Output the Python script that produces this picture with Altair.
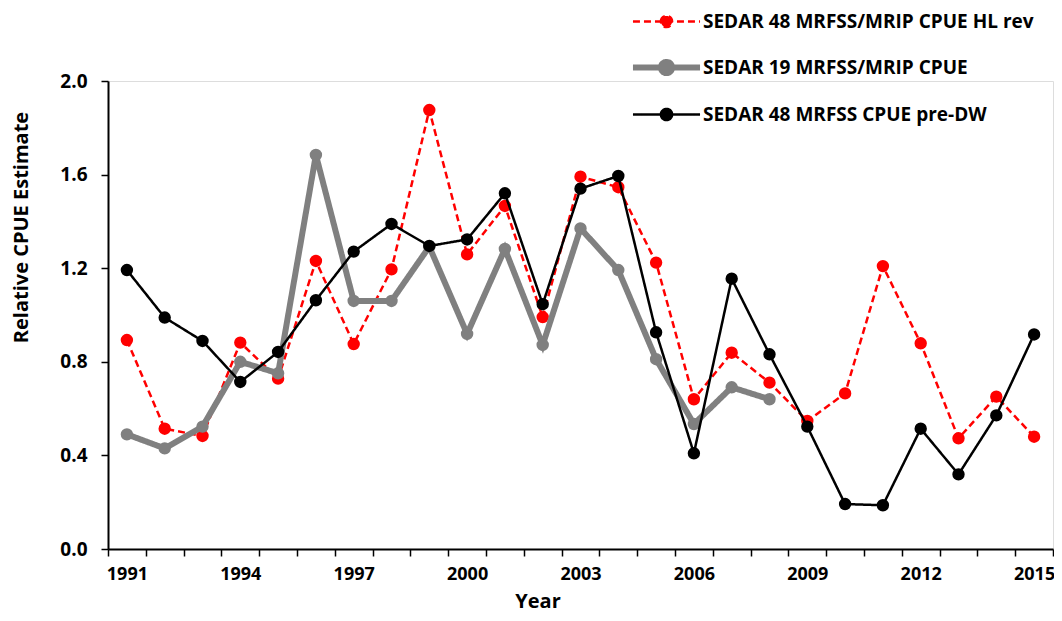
import altair as alt
import pandas as pd

years = list(range(1991, 2016))
series_names = [
    "SEDAR 48 MRFSS/MRIP CPUE HL rev",
    "SEDAR 19 MRFSS/MRIP CPUE",
    "SEDAR 48 MRFSS CPUE pre-DW",
]
red_vals = [0.893, 0.514, 0.483, 0.882, 0.728, 1.231, 0.876, 1.195, 1.876, 1.259,
            1.466, 0.991, 1.591, 1.546, 1.224, 0.640, 0.839, 0.711, 0.547, 0.665,
            1.209, 0.879, 0.473, 0.651, 0.480]
gray_vals = [0.490, 0.430, 0.523, 0.800, 0.751, 1.684, 1.060, 1.060, 1.292, 0.919,
             1.282, 0.872, 1.370, 1.192, 0.811, 0.534, 0.691, 0.640]
black_vals = [1.192, 0.989, 0.889, 0.714, 0.842, 1.063, 1.271, 1.389, 1.295, 1.323,
              1.520, 1.046, 1.540, 1.594, 0.926, 0.409, 1.155, 0.832, 0.523, 0.192,
              0.187, 0.514, 0.319, 0.571, 0.917]
colors = ["#FF0000", "#808080", "#000000"]
dashes = [[7, 4], [1, 0], [1, 0]]
widths = [2.5, 6, 2.5]

rows = []
for name, vals in zip(series_names, [red_vals, gray_vals, black_vals]):
    for y, v in zip(years, vals):
        rows.append({"Year": y, "Value": v, "series": name})
df = pd.DataFrame(rows)

x_ticks = [y - 0.5 for y in years] + [2015.5]
FONT = "Open Sans"

legend = alt.Legend(
    title=None, orient="none", legendX=544, legendY=-72,
    symbolType="M-3,0L3,0M-0.5,0A0.5,0.5,0,1,1,0.5,0A0.5,0.5,0,1,1,-0.5,0",
    symbolSize=500, labelFont=FONT, labelFontSize=19, labelFontWeight="bold",
    labelColor="black", labelOffset=22, rowPadding=16, labelLimit=500,
)

color = alt.Color("series:N", scale=alt.Scale(domain=series_names, range=colors), legend=legend)
dash = alt.StrokeDash("series:N", scale=alt.Scale(domain=series_names, range=dashes), legend=legend)
sw = alt.StrokeWidth("series:N", scale=alt.Scale(type="ordinal", domain=series_names, range=widths),
                     legend=legend)

xenc = alt.X("Year:Q", scale=alt.Scale(domain=[1990.5, 2015.5], nice=False, zero=False),
             axis=alt.Axis(values=x_ticks, title="Year", grid=False,
                           labelExpr="((datum.value + 0.5) % 3 == 2 && datum.value < 2015) ? format(datum.value + 0.5, 'd') : ''",
                           labelOffset=18.9, labelFlush=False, labelOverlap=False, labelBound=False,
                           tickSize=7, tickWidth=1.5, tickColor="black", domainColor="black", domainWidth=2,
                           labelFont=FONT, labelFontSize=18, labelFontWeight="bold", labelColor="black",
                           labelPadding=9, titleFont=FONT, titleFontSize=20, titleFontWeight="bold",
                           titleColor="black", titleX=429.5, titleY=52, titleBaseline="middle"))
yenc = alt.Y("Value:Q", scale=alt.Scale(domain=[0, 2], nice=False),
             axis=alt.Axis(values=[0, 0.4, 0.8, 1.2, 1.6, 2.0], format=".1f", title="Relative CPUE Estimate",
                           grid=False, tickSize=7, tickWidth=1.5, tickColor="black", domainColor="black",
                           domainWidth=2, labelFont=FONT, labelFontSize=19, labelFontWeight="bold",
                           labelColor="black", labelPadding=14, titleFont=FONT, titleFontSize=20,
                           titleFontWeight="bold", titleColor="black", titleX=-87, titleY=146,
                           titleBaseline="middle"))

layers = []
for name in series_names:
    base = alt.Chart(df).transform_filter(alt.datum.series == name)
    layers.append(base.mark_line().encode(x=xenc, y=yenc, color=color, strokeDash=dash, strokeWidth=sw))
    layers.append(base.mark_point(filled=True, size=154, opacity=1).encode(
        x=xenc, y=yenc, color=color, strokeDash=dash, strokeWidth=sw))

chart = alt.layer(*layers).properties(
    width=945, height=468,
    autosize=alt.AutoSizeParams(type="none"),
    padding={"left": 100, "top": 73, "right": 1, "bottom": 64},
).configure_view(stroke=None).configure(background="white")

chart.save("out.html", embed_options={"renderer": "svg", "actions": False})
